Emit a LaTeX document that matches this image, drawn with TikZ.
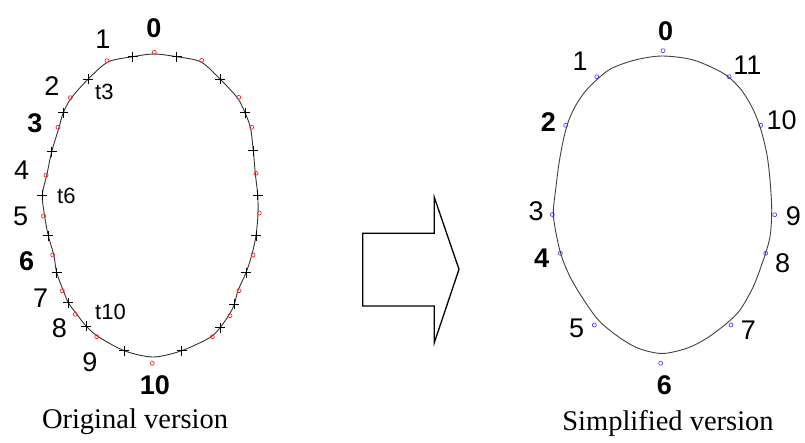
\documentclass[tikz,border=0pt]{standalone}
\usepackage{fontspec}
\setmainfont{Liberation Serif}
\newfontfamily\labfont{Liberation Sans}
\begin{document}
\begin{tikzpicture}[x=1pt,y=-1pt,
  lbl/.style={font=\labfont\fontsize{27}{27}\selectfont, inner sep=0pt},
  blbl/.style={font=\labfont\bfseries\fontsize{27}{27}\selectfont, inner sep=0pt},
  tlbl/.style={font=\labfont\fontsize{22}{22}\selectfont, inner sep=0pt},
  captext/.style={font=\fontsize{28.5}{28.5}\selectfont, inner sep=0pt},
  curve/.style={draw=black!80, line width=0.9pt},
  redmark/.style={draw=red!85, line width=0.7pt},
  bluemark/.style={draw=blue!70, line width=0.7pt},
  plusm/.pic={\draw[line width=0.8pt, black] (-5,0)--(5,0) (0,-5)--(0,5);}]
\useasboundingbox (0,0) rectangle (805,442);
% ---------------- left figure ----------------
\draw[curve] plot[smooth cycle, tension=0.5] coordinates {
 (154,54) (176.7,56.7) (201,62) (220,79) (237.5,98) (245,112.7) (250.5,128)
 (253.3,150.7) (255.3,173.5) (257.7,195) (258,213.5) (256,235.7) (251.8,255)
 (246,272.7) (238,290.5) (234.3,304.3) (229,315) (220,327.7) (210,337.5)
 (181.7,350.7) (153,357) (124.3,350.7) (98,336.5) (86,326) (76.3,313.5)
 (68.3,302.7) (63.3,290.5) (56.7,272.7) (53.8,255) (48.3,235.7) (44.6,216)
 (42.3,195) (46.8,175) (51.7,151.7) (59,127.5) (63.3,112.7) (71.3,98)
 (88.3,79) (108,62) (132.7,56.7)};
\foreach \p in {(107,60.7),(154.3,52.3),(201.7,60.3),(70.3,97.7),(238.7,97.3),
 (58,127.3),(251.7,127.3),(46,175),(256,173.3),(43.5,216),(259.3,213),
 (52.7,255),(253,255),(62.3,290.7),(239,290.7),(75.3,314.3),(230,315.7),
 (96.7,336.7),(212.3,336.7),(152.3,363.3)}
  \draw[redmark] \p circle[radius=2];
\foreach \p in {(132.7,56.7),(176.7,56.7),(88.3,79),(220,79),(63.3,112.7),
 (245,112.7),(51.7,151.7),(253.3,150.7),(42.3,195),(257.7,195),(48.3,235.7),
 (256,235.7),(56.7,272.7),(246,272.7),(68.3,302.7),(234.3,304.3),(86,326),
 (220,327.7),(124.3,350.7),(181.7,350.7)}
  \pic at \p {plusm};
\node[blbl] (l0) at (154,28) {0};
\node[lbl] (l1) at (103,39.5) {1};
\node[lbl] (l2) at (52,86) {2};
\node[blbl] (l3) at (35,123) {3};
\node[lbl] (l4) at (21.7,170.7) {4};
\node[lbl] (l5) at (20.7,216) {5};
\node[blbl] (l6) at (26.7,261.7) {6};
\node[lbl] (l7) at (40.7,298.3) {7};
\node[lbl] (l8) at (59.3,328.3) {8};
\node[lbl] (l9) at (90,361.7) {9};
\node[blbl] (l10) at (155,385.5) {10};
\node[tlbl,anchor=west] (t3) at (95,92) {t3};
\node[tlbl,anchor=west] (t6) at (57,196) {t6};
\node[tlbl,anchor=west] (t10) at (95,312) {t10};
\node[captext] (capL) at (135,422) {Original version};
% ---------------- arrow ----------------
\draw[line width=1.3pt, line join=miter] (362.7,233.3) -- (434.3,233.3) -- (434.3,197.3)
  -- (459,269.3) -- (434.3,342.7) -- (434.3,306) -- (362.7,306) -- cycle;
% ---------------- right figure ----------------
\foreach \p in {(663,50.7),(596.7,76.7),(729,76.7),(565.7,125.3),(760.7,125.3),
 (552.3,214.5),(774.7,214.7),(560.3,253.3),(765.7,253.3),(594.3,325),(731,325),
 (660.7,363.3)}
  \draw[bluemark] \p circle[radius=2];
\draw[curve, draw=black!75] plot[smooth cycle, tension=0.5] coordinates {
 (662,56) (693.3,60) (723.3,73.3) (740,88.3) (751.7,106.7) (760,126.7)
 (766.7,153.3) (770,180) (771.7,210) (770,236.7) (763.3,260) (753.3,286.7)
 (740,310) (726.7,323.3) (706.7,338.3) (686.7,348.3) (662,353.5) (638.3,348.3)
 (618.3,336.7) (598.3,320) (581.7,296.7) (570,276.7) (561.7,256.7) (556.7,236.7)
 (553.3,213) (556,186.7) (559,163.3) (563.3,140) (568.3,121.7) (575,106.7)
 (585,91.7) (598.3,78.3) (611.7,68.3) (635,60)};
\node[blbl] (r0) at (665.7,31) {0};
\node[lbl] (r1) at (580,61.7) {1};
\node[blbl] (r2) at (548.3,121.7) {2};
\node[lbl] (r3) at (536,211.7) {3};
\node[blbl] (r4) at (541.7,258.3) {4};
\node[lbl] (r5) at (576.7,328.3) {5};
\node[blbl] (r6) at (664.3,385) {6};
\node[lbl] (r7) at (748.3,330) {7};
\node[lbl] (r8) at (782.7,263.3) {8};
\node[lbl] (r9) at (793.3,216.7) {9};
\node[lbl] (r10) at (781.7,120) {10};
\node[lbl] (r11) at (747.3,65) {11};
\node[captext] (capR) at (668,423) {Simplified version};
\end{tikzpicture}
\end{document}
